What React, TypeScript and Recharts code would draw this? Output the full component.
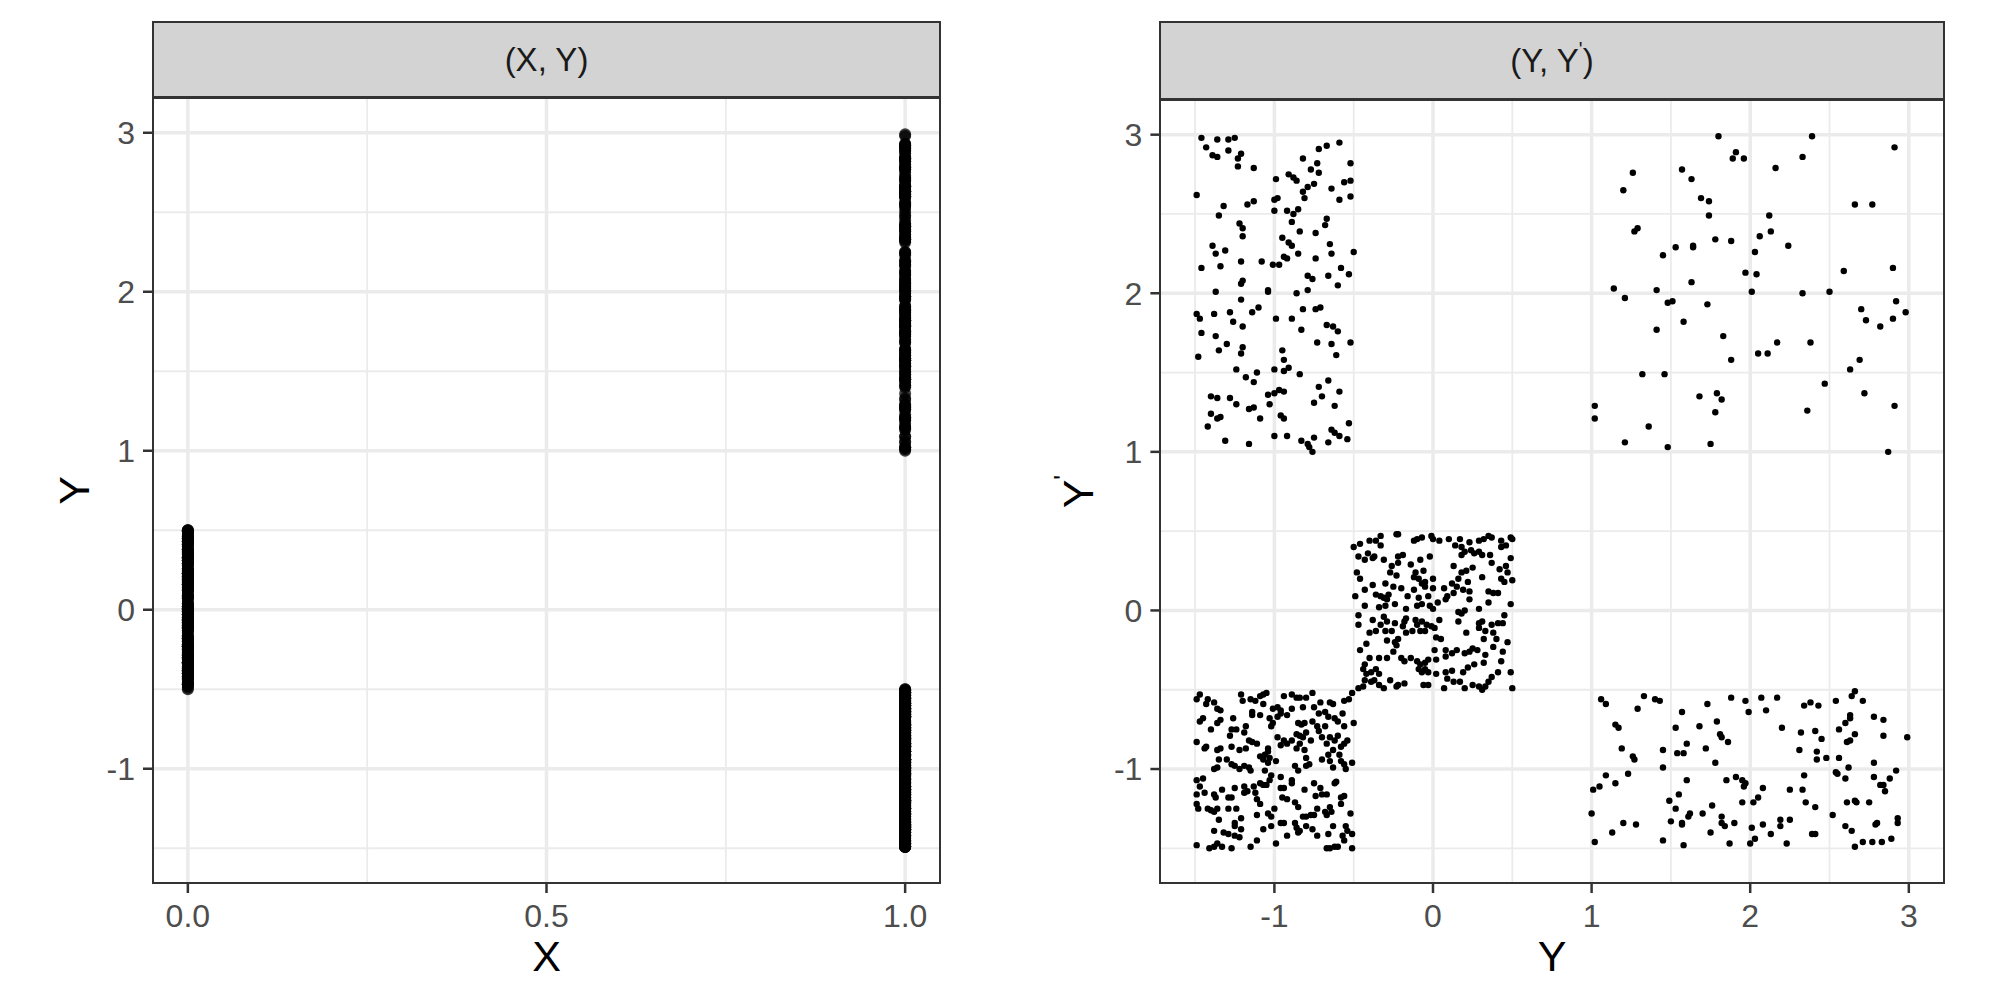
import { ScatterChart, Scatter, XAxis, YAxis, ReferenceLine } from "recharts";

const FONT = '"Liberation Sans", Arial, Helvetica, sans-serif';

// (Y, Y') pairs, one list per block of points
const highLeft = [
  [-1.46,2.98],[-1.36,2.97],[-1.29,2.97],[-1.25,2.98],[-1.43,2.92],[-1.39,2.87],[-1.36,2.86],[-1.29,2.90],[-1.21,2.88],[-1.23,2.85],
  [-1.23,2.80],[-1.13,2.79],[-1.49,2.62],[-1.32,2.55],[-1.35,2.49],[-1.17,2.56],[-1.13,2.58],[-1.00,2.59],[-0.98,2.60],[-0.99,2.72],
  [-0.91,2.75],[-0.88,2.73],[-0.86,2.71],[-0.82,2.85],[-0.77,2.78],[-0.73,2.82],[-0.72,2.76],[-0.72,2.91],[-0.67,2.93],[-0.59,2.95],
  [-0.52,2.82],[-0.82,2.64],[-0.79,2.67],[-0.75,2.69],[-0.81,2.60],[-0.64,2.66],[-0.56,2.70],[-0.52,2.71],[-0.59,2.59],[-0.52,2.61],
  [-1.00,2.52],[-0.92,2.52],[-0.88,2.50],[-0.85,2.53],[-0.89,2.45],[-1.22,2.44],[-1.20,2.41],[-1.20,2.36],[-0.84,2.39],[-0.67,2.47],
  [-0.68,2.43],[-0.74,2.38],[-0.95,2.35],[-0.91,2.32],[-0.89,2.30],[-0.85,2.25],[-0.94,2.23],[-0.92,2.22],[-1.39,2.30],[-1.37,2.25],
  [-1.31,2.27],[-1.46,2.16],[-1.34,2.17],[-1.21,2.20],[-1.08,2.20],[-1.01,2.18],[-0.97,2.18],[-0.74,2.22],[-0.65,2.31],[-0.64,2.25],
  [-0.50,2.26],[-0.58,2.16],[-0.66,2.11],[-0.79,2.11],[-0.76,2.09],[-0.60,2.05],[-0.53,2.12],[-1.21,2.06],[-1.20,2.08],[-1.37,2.01],
  [-1.04,2.02],[-1.04,2.01],[-0.86,2.00],[-0.79,2.02],
  [-1.21,1.96],[-1.10,1.91],[-1.14,1.88],[-1.28,1.88],[-1.38,1.87],[-1.49,1.87],[-1.47,1.84],[-1.26,1.82],[-1.20,1.79],[-0.99,1.84],
  [-0.89,1.84],[-0.82,1.90],[-0.74,1.90],[-0.71,1.91],[-0.83,1.77],[-0.67,1.80],[-0.63,1.79],[-0.60,1.76],[-1.46,1.75],[-1.37,1.73],
  [-1.30,1.68],[-1.20,1.66],[-1.21,1.62],[-1.35,1.64],[-1.48,1.60],[-0.73,1.69],[-0.64,1.68],[-0.52,1.69],[-0.61,1.61],[-0.95,1.64],
  [-0.94,1.58],[-1.24,1.52],[-1.11,1.50],[-1.18,1.47],[-1.13,1.44],[-1.00,1.52],[-0.94,1.51],[-0.91,1.53],[-0.84,1.49],[-0.66,1.45],
  [-0.72,1.41],[-0.59,1.38],[-0.70,1.35],[-0.75,1.31],[-0.62,1.29],[-1.40,1.35],[-1.36,1.34],[-1.28,1.34],[-1.24,1.30],[-1.04,1.36],
  [-1.00,1.37],[-0.97,1.39],[-0.94,1.38],[-1.03,1.30],[-1.16,1.27],[-1.13,1.28],[-1.40,1.24],[-1.36,1.21],[-1.34,1.22],[-1.09,1.21],
  [-0.96,1.23],[-0.94,1.21],[-1.42,1.16],[-1.31,1.07],[-1.16,1.05],[-1.00,1.10],[-0.92,1.10],[-0.83,1.07],[-0.79,1.05],[-0.78,1.03],
  [-0.76,1.00],[-0.75,1.09],[-0.66,1.06],[-0.64,1.14],[-0.62,1.12],[-0.59,1.10],[-0.54,1.08],[-0.53,1.18],
];

const highRight = [
  [1.80,2.99],[2.39,2.99],[2.91,2.92],[1.91,2.89],[1.89,2.85],[1.96,2.85],[2.33,2.86],[2.16,2.79],[1.57,2.78],[1.26,2.76],
  [1.63,2.72],[1.20,2.65],[1.69,2.60],[1.74,2.58],[2.66,2.56],[2.77,2.56],[1.74,2.49],[2.12,2.49],[1.27,2.39],[1.29,2.41],
  [2.13,2.39],[2.06,2.36],[1.78,2.34],[1.88,2.33],[1.53,2.29],[1.64,2.30],[1.64,2.29],[2.24,2.30],[1.45,2.24],[2.03,2.26],
  [2.59,2.14],[2.90,2.16],[1.97,2.13],[2.04,2.12],[1.63,2.07],[1.14,2.03],[1.41,2.02],[2.01,2.01],[2.33,2.00],[2.50,2.01],
  [1.21,1.97],[1.48,1.94],[1.51,1.95],[1.73,1.93],[2.92,1.95],[2.70,1.90],[2.98,1.88],[2.73,1.83],[2.82,1.79],[2.90,1.84],
  [1.58,1.82],[1.41,1.77],[1.83,1.73],[2.17,1.69],[2.38,1.69],[2.05,1.62],[2.11,1.62],[1.88,1.58],[2.69,1.58],[2.63,1.52],
  [1.32,1.49],[1.46,1.49],[2.47,1.43],[1.68,1.35],[1.79,1.37],[1.82,1.33],[2.72,1.37],[1.02,1.29],[2.91,1.29],[1.78,1.25],
  [2.36,1.26],[1.02,1.21],[1.36,1.16],[1.21,1.06],[1.48,1.03],[1.75,1.05],[2.87,1.00],
];

const middle = [
  [-0.50,0.40],[-0.46,0.42],[-0.40,0.44],[-0.36,0.44],[-0.33,0.47],[-0.33,0.41],[-0.23,0.48],[-0.22,0.48],[-0.12,0.44],[-0.10,0.45],
  [-0.07,0.46],[-0.01,0.47],[0.00,0.45],[0.04,0.44],[0.10,0.45],[0.14,0.41],[0.17,0.45],[0.23,0.43],[0.29,0.44],[0.32,0.45],
  [0.35,0.47],[0.37,0.46],[0.43,0.44],[0.49,0.46],[0.50,0.45],[-0.47,0.34],[-0.43,0.32],[-0.41,0.36],[-0.38,0.33],[-0.37,0.34],
  [-0.31,0.32],[-0.22,0.34],[-0.19,0.35],[-0.22,0.30],[-0.26,0.28],[-0.27,0.24],[-0.23,0.22],[-0.14,0.29],[-0.08,0.32],[-0.02,0.34],
  [-0.06,0.25],[-0.11,0.24],[-0.12,0.21],[-0.09,0.20],[-0.05,0.18],[-0.07,0.17],[0.00,0.20],[0.13,0.28],[0.18,0.40],[0.20,0.37],
  [0.18,0.35],[0.24,0.38],[0.26,0.36],[0.29,0.37],[0.31,0.35],[0.36,0.35],[0.43,0.40],[0.46,0.41],[0.49,0.33],[0.37,0.30],
  [0.42,0.26],[0.46,0.28],[0.47,0.24],[0.43,0.20],[0.45,0.18],[0.50,0.19],[-0.48,0.24],[-0.46,0.20],[-0.38,0.16],[-0.30,0.17],
  [-0.25,0.15],[-0.20,0.14],[-0.12,0.13],[-0.05,0.15],[0.00,0.14],[0.07,0.14],[0.12,0.17],[0.15,0.15],[0.16,0.20],[0.18,0.24],
  [0.21,0.25],[0.25,0.27],[0.22,0.18],[0.31,0.21],[0.35,0.12],[0.38,0.11],[0.41,0.11],[0.23,0.12],[0.19,0.13],[0.09,0.09],
  [0.13,0.11],[-0.03,0.09],[-0.49,0.09],[-0.43,0.13],[-0.36,0.10],[-0.33,0.09],[-0.31,0.08],[-0.29,0.07],[-0.34,0.02],[-0.43,0.03],
  [-0.30,0.03],[-0.24,0.04],[-0.28,0.10],[-0.16,0.09],[-0.09,0.08],[-0.07,0.04],[-0.02,0.03],[0.00,0.01],[-0.17,0.01],[-0.10,0.03],
  [0.03,0.05],[0.08,0.07],[0.23,0.07],[0.18,-0.02],[0.16,-0.01],[0.20,0.00],[0.29,0.01],[0.35,0.05],[0.49,0.04],[0.45,-0.03],
  [-0.47,-0.03],[-0.47,-0.09],[-0.40,-0.14],[-0.38,-0.06],[-0.36,-0.13],[-0.33,-0.09],[-0.31,-0.04],[-0.29,-0.07],[-0.30,-0.13],[-0.24,-0.08],
  [-0.26,-0.13],[-0.19,-0.10],[-0.18,-0.07],[-0.17,-0.05],[-0.11,-0.06],[-0.10,-0.09],[-0.07,-0.07],[-0.04,-0.09],[-0.01,-0.10],[0.01,-0.11],
  [0.04,-0.06],[-0.05,-0.13],[-0.08,-0.13],[-0.13,-0.13],[-0.17,-0.14],[-0.22,-0.18],[-0.24,-0.20],[-0.29,-0.19],[0.02,-0.17],[0.05,-0.18],
  [0.16,-0.07],[0.21,-0.14],[0.29,-0.08],[0.31,-0.07],[0.29,-0.11],[0.33,-0.13],[0.37,-0.09],[0.38,-0.14],[0.41,-0.08],[0.44,-0.08],
  [0.32,-0.18],[0.40,-0.18],[0.47,-0.20],[-0.46,-0.25],[-0.42,-0.21],[-0.40,-0.30],[-0.43,-0.34],[-0.34,-0.30],[-0.29,-0.30],[-0.25,-0.26],
  [-0.23,-0.22],[-0.20,-0.30],[-0.18,-0.32],[-0.14,-0.30],[-0.10,-0.32],[-0.08,-0.34],[-0.05,-0.33],[-0.03,-0.31],[0.02,-0.31],[0.01,-0.25],
  [0.08,-0.25],[0.08,-0.29],[0.12,-0.27],[0.15,-0.25],[0.20,-0.27],[0.23,-0.26],[0.25,-0.24],[0.28,-0.25],[0.33,-0.28],[0.38,-0.23],
  [0.44,-0.26],[0.43,-0.32],[0.32,-0.33],[0.26,-0.34],[0.22,-0.36],[0.19,-0.39],[-0.44,-0.37],[-0.42,-0.40],[-0.39,-0.39],[-0.36,-0.37],
  [-0.34,-0.40],[-0.43,-0.44],[-0.39,-0.45],[-0.37,-0.44],[-0.34,-0.47],[-0.31,-0.49],[-0.27,-0.44],[-0.23,-0.48],[-0.22,-0.47],[-0.18,-0.46],
  [-0.09,-0.37],[-0.07,-0.39],[-0.05,-0.37],[-0.03,-0.39],[-0.06,-0.47],[-0.03,-0.47],[0.02,-0.40],[0.08,-0.39],[0.12,-0.38],[0.09,-0.43],
  [0.13,-0.45],[0.07,-0.49],[0.17,-0.45],[0.20,-0.49],[0.25,-0.47],[0.29,-0.48],[0.31,-0.50],[0.33,-0.48],[0.35,-0.45],[0.37,-0.42],
  [0.41,-0.39],[0.49,-0.39],[0.50,-0.49],[-0.47,-0.49],[-0.44,-0.48],
];

const lowLeft = [
  [-1.49,-0.56],[-1.47,-0.53],[-1.42,-0.56],[-1.43,-0.59],[-1.38,-0.58],[-1.36,-0.62],[-1.34,-0.63],[-1.21,-0.53],[-1.20,-0.57],[-1.15,-0.56],
  [-1.12,-0.57],[-1.09,-0.54],[-1.07,-0.53],[-1.05,-0.52],[-1.07,-0.59],[-1.01,-0.62],[-0.98,-0.61],[-0.96,-0.63],[-0.94,-0.54],[-0.89,-0.53],
  [-0.86,-0.55],[-0.84,-0.55],[-0.80,-0.55],[-0.76,-0.52],[-0.75,-0.61],[-0.82,-0.61],[-0.71,-0.58],[-0.68,-0.64],[-0.65,-0.58],[-0.63,-0.59],
  [-0.56,-0.57],[-0.53,-0.56],[-0.51,-0.52],[-1.47,-0.70],[-1.45,-0.68],[-1.40,-0.75],[-1.36,-0.71],[-1.34,-0.69],[-1.26,-0.68],[-1.27,-0.75],
  [-1.24,-0.75],[-1.19,-0.77],[-1.18,-0.73],[-1.14,-0.66],[-1.14,-0.64],[-1.09,-0.66],[-1.03,-0.68],[-1.02,-0.73],[-1.01,-0.71],[-0.98,-0.67],
  [-0.96,-0.65],[-0.92,-0.66],[-0.89,-0.62],[-0.85,-0.71],[-0.83,-0.72],[-0.81,-0.71],[-0.76,-0.70],[-0.72,-0.65],[-0.66,-0.67],[-0.62,-0.68],
  [-0.60,-0.70],[-0.57,-0.65],[-0.56,-0.73],[-0.50,-0.71],[-0.72,-0.76],[-0.73,-0.73],[-0.68,-0.73],[-1.49,-0.83],[-1.44,-0.87],[-1.43,-0.86],
  [-1.36,-0.88],[-1.34,-0.87],[-1.28,-0.79],[-1.27,-0.86],[-1.22,-0.88],[-1.16,-0.82],[-1.14,-0.83],[-1.11,-0.84],[-1.18,-0.87],[-1.04,-0.87],
  [-1.04,-0.89],[-0.98,-0.80],[-0.96,-0.85],[-0.94,-0.82],[-0.92,-0.84],[-0.89,-0.82],[-0.86,-0.78],[-0.84,-0.79],[-0.82,-0.80],[-0.80,-0.77],
  [-0.77,-0.82],[-0.86,-0.87],[-0.84,-0.84],[-0.81,-0.88],[-0.70,-0.80],[-0.67,-0.84],[-0.65,-0.80],[-0.62,-0.82],[-0.60,-0.79],[-0.58,-0.86],
  [-0.56,-0.84],[-0.54,-0.82],[-0.63,-0.88],[-0.66,-0.91],[-1.35,-0.94],[-1.30,-0.94],[-1.27,-0.97],[-1.25,-0.98],[-1.22,-1.00],[-1.19,-0.98],
  [-1.16,-0.99],[-1.15,-1.01],[-1.09,-0.92],[-1.07,-0.94],[-1.06,-0.91],[-1.04,-0.96],[-1.03,-0.93],[-0.99,-0.95],[-1.06,-1.01],[-0.87,-0.98],
  [-0.85,-1.01],[-0.80,-0.93],[-0.80,-0.98],[-0.78,-0.97],[-0.70,-0.94],[-0.65,-0.95],[-0.63,-0.99],[-0.59,-0.91],[-0.58,-0.95],[-0.56,-0.97],
  [-0.55,-1.00],[-0.51,-0.96],[-1.38,-1.00],[-1.36,-0.99],[-1.49,-1.07],[-1.47,-1.11],[-1.45,-1.06],[-1.44,-1.15],[-1.49,-1.16],[-1.38,-1.16],
  [-1.33,-1.13],[-1.25,-1.12],[-1.19,-1.11],[-1.19,-1.15],[-1.17,-1.14],[-1.13,-1.11],[-1.12,-1.15],[-1.09,-1.09],[-1.07,-1.10],[-1.05,-1.10],
  [-1.03,-1.07],[-1.02,-1.04],[-0.96,-1.05],[-0.96,-1.12],[-0.94,-1.12],[-0.89,-1.07],[-0.89,-1.09],[-0.81,-1.13],[-0.75,-1.09],[-0.71,-1.12],
  [-0.70,-1.16],[-0.62,-1.09],[-0.61,-1.08],[-0.58,-1.18],[-0.56,-1.17],[-0.67,-1.16],[-0.74,-1.17],[-1.49,-1.22],[-1.48,-1.25],[-1.42,-1.25],
  [-1.40,-1.26],[-1.38,-1.27],[-1.36,-1.25],[-1.37,-1.18],[-1.29,-1.18],[-1.27,-1.18],[-1.24,-1.25],[-1.29,-1.25],[-1.11,-1.19],[-1.09,-1.22],
  [-1.11,-1.29],[-1.04,-1.28],[-1.02,-1.30],[-1.00,-1.25],[-0.95,-1.18],[-0.92,-1.19],[-0.87,-1.21],[-0.85,-1.24],[-0.82,-1.30],[-0.80,-1.30],
  [-0.77,-1.29],[-0.75,-1.29],[-0.73,-1.25],[-0.68,-1.27],[-0.65,-1.24],[-0.64,-1.27],[-0.67,-1.29],[-0.52,-1.28],[-0.58,-1.22],[-1.35,-1.32],
  [-1.25,-1.34],[-1.25,-1.36],[-1.21,-1.31],[-1.38,-1.39],[-1.32,-1.40],[-1.29,-1.41],[-1.25,-1.42],[-1.22,-1.43],[-1.21,-1.38],[-1.07,-1.38],
  [-1.02,-1.36],[-0.96,-1.34],[-0.94,-1.34],[-0.87,-1.34],[-0.86,-1.37],[-0.85,-1.40],[-0.84,-1.39],[-0.80,-1.36],[-0.76,-1.38],[-0.73,-1.42],
  [-0.66,-1.41],[-0.63,-1.36],[-0.55,-1.36],[-0.54,-1.39],[-0.51,-1.41],[-0.57,-1.42],[-0.56,-1.45],[-0.60,-1.49],[-0.65,-1.50],[-0.67,-1.50],
  [-0.62,-1.49],[-0.51,-1.50],[-1.49,-1.48],[-1.41,-1.50],[-1.38,-1.49],[-1.36,-1.47],[-1.33,-1.49],[-1.27,-1.50],[-1.15,-1.49],[-1.11,-1.45],
  [-0.99,-1.47],[-0.92,-1.42],
];

const lowRight = [
  [1.06,-0.56],[1.09,-0.59],[1.33,-0.54],[1.40,-0.56],[1.43,-0.57],[1.29,-0.62],[1.15,-0.72],[1.17,-0.74],[1.19,-0.87],[1.26,-0.92],
  [1.27,-0.94],[1.45,-0.88],[1.45,-0.99],[1.09,-1.04],[1.15,-1.09],[1.23,-1.03],[1.01,-1.13],[1.05,-1.11],[1.00,-1.28],[1.13,-1.40],
  [1.20,-1.34],[1.28,-1.35],[1.02,-1.46],[1.45,-1.45],[1.57,-0.64],[1.53,-0.74],[1.54,-0.90],[1.58,-0.90],[1.60,-0.84],[1.73,-0.59],
  [1.68,-0.73],[1.72,-0.87],[1.79,-0.70],[1.81,-0.78],[1.82,-0.80],[1.86,-0.83],[1.78,-0.96],[1.88,-0.55],[1.97,-0.57],[1.99,-0.64],
  [2.07,-0.55],[2.10,-0.63],[2.17,-0.55],[2.20,-0.74],[1.60,-1.07],[1.49,-1.20],[1.55,-1.16],[1.53,-1.25],[1.62,-1.28],[1.61,-1.30],
  [1.70,-1.28],[1.76,-1.23],[1.50,-1.33],[1.57,-1.35],[1.57,-1.34],[1.75,-1.40],[1.82,-1.30],[1.82,-1.34],[1.84,-1.36],[1.90,-1.34],
  [1.58,-1.48],[1.85,-1.07],[1.91,-1.05],[1.95,-1.07],[1.97,-1.09],[1.96,-1.11],[1.95,-1.21],[2.02,-1.21],[2.05,-1.18],[2.08,-1.12],
  [2.01,-1.37],[2.08,-1.35],[2.03,-1.44],[2.00,-1.47],[1.87,-1.47],[2.13,-1.41],[2.19,-1.32],[2.19,-1.36],[2.25,-1.32],[2.23,-1.47],
  [2.25,-1.13],[2.34,-0.60],[2.38,-0.58],[2.43,-0.60],[2.32,-0.77],[2.41,-0.76],[2.45,-0.81],[2.31,-0.88],[2.42,-0.89],[2.42,-0.94],
  [2.48,-0.93],[2.34,-1.04],[2.33,-1.13],[2.35,-1.21],[2.41,-1.24],[2.39,-1.41],[2.41,-1.41],[2.54,-0.57],[2.64,-0.54],[2.66,-0.51],
  [2.71,-0.57],[2.63,-0.66],[2.63,-0.68],[2.60,-0.71],[2.56,-0.75],[2.66,-0.78],[2.61,-0.83],[2.63,-0.82],[2.78,-0.67],[2.84,-0.69],
  [2.84,-0.79],[2.99,-0.80],[2.56,-0.93],[2.62,-0.99],[2.78,-0.96],[2.54,-1.02],[2.55,-1.03],[2.60,-1.06],[2.78,-1.05],[2.88,-1.06],
  [2.92,-1.01],[2.82,-1.10],[2.84,-1.10],[2.85,-1.14],[2.61,-1.21],[2.66,-1.20],[2.67,-1.21],[2.75,-1.21],[2.52,-1.29],[2.60,-1.36],
  [2.64,-1.39],[2.79,-1.35],[2.80,-1.34],[2.93,-1.31],[2.93,-1.34],[2.71,-1.46],[2.77,-1.46],[2.83,-1.46],[2.89,-1.44],[2.66,-1.49],
];

const blocks = [highLeft, lowLeft, middle, highRight, lowRight];
// X of each block in the left panel
const blockX = [1, 1, 0, 1, 1];

const leftXMajor = [0, 0.5, 1];
const leftXMinor = [0.25, 0.75];
const major = [-1, 0, 1, 2, 3];
const minor = [-1.5, -0.5, 0.5, 1.5, 2.5];

const leftData = blocks.flatMap((b, i) => b.map((p) => ({ x: blockX[i], y: p[0] })));
const rightData = blocks.flatMap((b) => b.map((p) => ({ x: p[0], y: p[1] })));

const tickStyle = { fill: "#4D4D4D", fontSize: 32, fontFamily: FONT };
const tickLine = { stroke: "#333333", strokeWidth: 2.5 };
const GRID = "#EBEBEB";

function gridLines(xMaj: number[], xMin: number[], yMaj: number[], yMin: number[]) {
  return [
    ...xMin.map((v) => <ReferenceLine key={"xm" + v} x={v} stroke={GRID} strokeWidth={1.8} />),
    ...yMin.map((v) => <ReferenceLine key={"ym" + v} y={v} stroke={GRID} strokeWidth={1.8} />),
    ...xMaj.map((v) => <ReferenceLine key={"xM" + v} x={v} stroke={GRID} strokeWidth={3.5} />),
    ...yMaj.map((v) => <ReferenceLine key={"yM" + v} y={v} stroke={GRID} strokeWidth={3.5} />),
  ];
}

function Strip({ left, top, width, height, children }: any) {
  return (
    <div
      style={{
        position: "absolute", left, top, width, height, boxSizing: "border-box",
        background: "#D3D3D3", border: "2px solid #333333",
        display: "flex", alignItems: "center", justifyContent: "center",
        fontFamily: FONT, fontSize: 33, color: "#1A1A1A",
      }}
    >
      {children}
    </div>
  );
}

function Border({ left, top, width, height }: any) {
  return (
    <div
      style={{
        position: "absolute", left, top, width, height, boxSizing: "border-box",
        border: "2px solid #333333", pointerEvents: "none",
      }}
    />
  );
}

const titleStyle: any = { position: "absolute", fontFamily: FONT, fontSize: 43, lineHeight: "43px", color: "#000", textAlign: "center" };
const prime: any = { fontSize: "0.6em", verticalAlign: "0.8em", lineHeight: 0 };

export default function App() {
  return (
    <div style={{ position: "fixed", left: 0, top: 0, width: 2000, height: 1000, background: "#fff" }}>
      <div style={{ position: "absolute", left: 0, top: 0 }}>
        <ScatterChart width={960} height={1000} margin={{ top: 97, right: 19, bottom: 56, left: 92 }}>
          <XAxis
            type="number" dataKey="x" domain={[-0.05, 1.05]} ticks={leftXMajor} allowDataOverflow
            axisLine={false} tickLine={tickLine} tickSize={9} tickMargin={11} height={60}
            tick={tickStyle} tickFormatter={(v: number) => v.toFixed(1)}
          />
          <YAxis
            type="number" dataKey="y" domain={[-1.725, 3.225]} ticks={major} allowDataOverflow
            axisLine={false} tickLine={tickLine} tickSize={9} tickMargin={8} width={60} tick={tickStyle}
          />
          {gridLines(leftXMajor, leftXMinor, major, minor)}
          <Scatter
            data={leftData} isAnimationActive={false}
            shape={(p: any) => <circle cx={p.cx} cy={p.cy} r={6} fill="#000" fillOpacity={0.75} />}
          />
        </ScatterChart>
      </div>
      <div style={{ position: "absolute", left: 1000, top: 0 }}>
        <ScatterChart width={1000} height={1000} margin={{ top: 99, right: 55.5, bottom: 56, left: 99.4 }}>
          <XAxis
            type="number" dataKey="x" domain={[-1.725, 3.225]} ticks={major} allowDataOverflow
            axisLine={false} tickLine={tickLine} tickSize={9} tickMargin={11} height={60} tick={tickStyle}
          />
          <YAxis
            type="number" dataKey="y" domain={[-1.725, 3.225]} ticks={major} allowDataOverflow
            axisLine={false} tickLine={tickLine} tickSize={9} tickMargin={8} width={60} tick={tickStyle}
          />
          {gridLines(major, minor, major, minor)}
          <Scatter
            data={rightData} isAnimationActive={false}
            shape={(p: any) => <circle cx={p.cx} cy={p.cy} r={3.2} fill="#000" />}
          />
        </ScatterChart>
      </div>

      <Border left={152} top={97} width={789} height={787} />
      <Border left={1159} top={99} width={786} height={785} />
      <Strip left={152} top={21} width={789} height={77}>(X, Y)</Strip>
      <Strip left={1159} top={21} width={786} height={79}>
        <span>
          (Y, Y<sup style={prime}>'</sup>)
        </span>
      </Strip>

      <div style={{ ...titleStyle, left: 152, top: 935, width: 789 }}>X</div>
      <div style={{ ...titleStyle, left: 1159, top: 935, width: 786 }}>Y</div>
      <div style={{ ...titleStyle, left: 74 - 100, top: 490 - 21.5, width: 200, transform: "rotate(-90deg)" }}>Y</div>
      <div style={{ ...titleStyle, left: 1078 - 100, top: 491 - 21.5, width: 200, transform: "rotate(-90deg)" }}>
        Y<sup style={prime}>'</sup>
      </div>
    </div>
  );
}
